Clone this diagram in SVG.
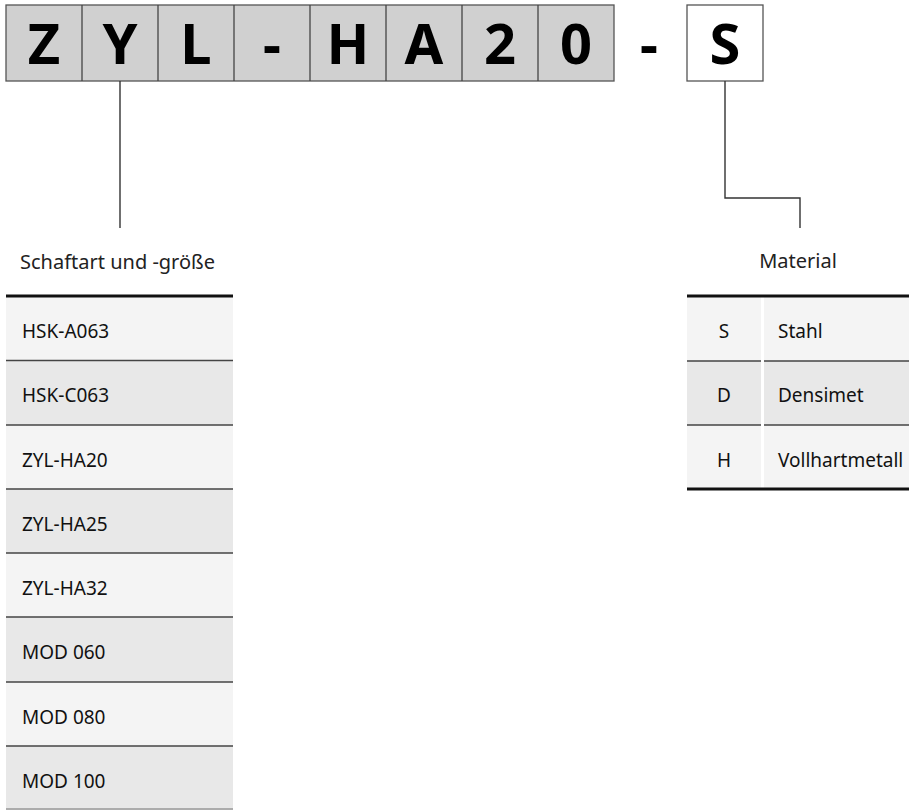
<svg xmlns="http://www.w3.org/2000/svg" width="909" height="810" viewBox="0 0 909 810">
<style>
.code{fill:#d0d0d0;stroke:#555;stroke-width:1.3}
.codew{fill:#fff;stroke:#555;stroke-width:1.3}
.ct{font-family:"Noto Sans","Open Sans",sans-serif;font-weight:bold;font-size:56px;fill:#000;text-anchor:middle}
.lbl{font-family:"Noto Sans","Open Sans",sans-serif;font-size:20px;fill:#222}
.rt{font-family:"Noto Sans","Open Sans",sans-serif;font-size:19px;fill:#111}
.la{fill:#f4f4f4}
.da{fill:#e8e8e8}
.sep{stroke:#444;stroke-width:1.3}
.thick{stroke:#111;stroke-width:3}
.conn{fill:none;stroke:#333;stroke-width:1.4}
</style>
<g id="code">
<rect class="code" x="6" y="5" width="608" height="76"/>
<g stroke="#444" stroke-width="1.3">
<line x1="82" y1="5" x2="82" y2="81"/><line x1="158" y1="5" x2="158" y2="81"/><line x1="234" y1="5" x2="234" y2="81"/><line x1="310" y1="5" x2="310" y2="81"/><line x1="386" y1="5" x2="386" y2="81"/><line x1="462" y1="5" x2="462" y2="81"/><line x1="538" y1="5" x2="538" y2="81"/>
</g>
<text class="ct" x="44" y="64">Z</text>
<text class="ct" x="120" y="64">Y</text>
<text class="ct" x="196" y="64">L</text>
<text class="ct" x="272" y="64">-</text>
<text class="ct" x="348" y="64">H</text>
<text class="ct" x="424" y="64">A</text>
<text class="ct" x="500" y="64">2</text>
<text class="ct" x="576" y="64">0</text>
<text class="ct" x="649" y="64">-</text>
<rect class="codew" x="687" y="5" width="76" height="76"/>
<text class="ct" x="725" y="64">S</text>
</g>
<g id="connectors">
<polyline class="conn" points="120,81 120,228"/>
<polyline class="conn" points="725,81 725,198 800,198 800,228"/>
</g>
<g id="shank-table">
<text class="lbl" x="20" y="269">Schaftart und -größe</text>
<rect class="la" x="6" y="296" width="227" height="64"/>
<rect class="da" x="6" y="360" width="227" height="65"/>
<rect class="la" x="6" y="425" width="227" height="64"/>
<rect class="da" x="6" y="489" width="227" height="64"/>
<rect class="la" x="6" y="553" width="227" height="64"/>
<rect class="da" x="6" y="617" width="227" height="65"/>
<rect class="la" x="6" y="682" width="227" height="64"/>
<rect class="da" x="6" y="746" width="227" height="64"/>
<line class="sep" x1="6" y1="360.5" x2="233" y2="360.5"/>
<line class="sep" x1="6" y1="425" x2="233" y2="425"/>
<line class="sep" x1="6" y1="489" x2="233" y2="489"/>
<line class="sep" x1="6" y1="553" x2="233" y2="553"/>
<line class="sep" x1="6" y1="617" x2="233" y2="617"/>
<line class="sep" x1="6" y1="682" x2="233" y2="682"/>
<line class="sep" x1="6" y1="746" x2="233" y2="746"/>
<line stroke="#999" stroke-width="1.3" x1="6" y1="809" x2="233" y2="809"/>
<line class="thick" x1="6" y1="296" x2="233" y2="296"/>
<text class="rt" x="22" y="338">HSK-A063</text>
<text class="rt" x="22" y="402">HSK-C063</text>
<text class="rt" x="22" y="467">ZYL-HA20</text>
<text class="rt" x="22" y="531">ZYL-HA25</text>
<text class="rt" x="22" y="595">ZYL-HA32</text>
<text class="rt" x="22" y="659">MOD 060</text>
<text class="rt" x="22" y="724">MOD 080</text>
<text class="rt" x="22" y="788">MOD 100</text>
</g>
<g id="material-table">
<text class="lbl" x="798" y="268" text-anchor="middle">Material</text>
<rect class="la" x="687" y="296" width="74" height="65"/>
<rect class="la" x="764" y="296" width="145" height="65"/>
<rect class="da" x="687" y="361" width="74" height="64"/>
<rect class="da" x="764" y="361" width="145" height="64"/>
<rect class="la" x="687" y="425" width="74" height="64"/>
<rect class="la" x="764" y="425" width="145" height="64"/>
<line class="sep" x1="687" y1="361" x2="761" y2="361"/><line class="sep" x1="764" y1="361" x2="909" y2="361"/>
<line class="sep" x1="687" y1="425" x2="761" y2="425"/><line class="sep" x1="764" y1="425" x2="909" y2="425"/>
<line class="thick" x1="687" y1="296" x2="909" y2="296"/>
<line class="thick" x1="687" y1="489" x2="909" y2="489"/>
<text class="rt" x="724" y="338" text-anchor="middle">S</text>
<text class="rt" x="778" y="338">Stahl</text>
<text class="rt" x="724" y="402" text-anchor="middle">D</text>
<text class="rt" x="778" y="402">Densimet</text>
<text class="rt" x="724" y="467" text-anchor="middle">H</text>
<text class="rt" x="778" y="467">Vollhartmetall</text>
</g>
</svg>
